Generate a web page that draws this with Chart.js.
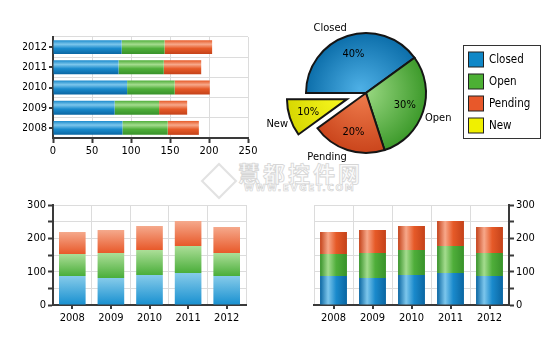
<!DOCTYPE html>
<html><head><meta charset="utf-8">
<script src="https://cdn.jsdelivr.net/npm/chart.js@4.4.1/dist/chart.umd.min.js"></script>
<style>
html,body{margin:0;padding:0;background:#fff;width:560px;height:355px;overflow:hidden;}
.box{position:absolute;}
.wm{position:absolute;color:#fbfbfb;-webkit-text-stroke:0.8px #d6d6d6;white-space:nowrap;}
</style></head><body>
<div class="wm" style="left:238px;top:156px;font:bold 22px 'Noto Sans CJK SC';letter-spacing:3px;">慧都控件网</div>
<div class="wm" style="left:244px;top:183px;font:bold 9px 'DejaVu Sans';letter-spacing:1.6px;-webkit-text-stroke:0.6px #d0d0d0;">WWW.EVGET.COM</div>
<div style="position:absolute;left:206px;top:168px;width:22px;height:22px;border:2px solid #e2e2e2;transform:rotate(45deg);"></div>
<div class="box" style="left:0;top:0;"><canvas id="c1" width="260" height="160"></canvas></div>
<div class="box" style="left:262px;top:0;"><canvas id="c2" width="298" height="185"></canvas></div>
<div class="box" style="left:0;top:190px;"><canvas id="c3" width="260" height="165"></canvas></div>
<div class="box" style="left:290px;top:190px;"><canvas id="c4" width="270" height="165"></canvas></div>
<script>
// ---------- data ----------
const years = ['2008', '2009', '2010', '2011', '2012'];
// top-left horizontal stacked bars
const hClosed  = [89, 79, 95, 84, 88];
const hOpen    = [58, 57, 61, 58, 55];
const hPending = [40, 36, 45, 48, 61];
const hTicks   = [0, 50, 100, 150, 200, 250];
// bottom vertical stacked bars (both charts)
const vClosed  = [87, 81, 90, 96, 87];
const vOpen    = [66, 75, 75, 81, 69];
const vPending = [66, 69, 72, 75, 78];
const vTicks   = [0, 50, 100, 150, 200, 250, 300];
const vLabeled = [0, 100, 200, 300];
// pie
const pieNames  = ['Closed', 'Open', 'Pending', 'New'];
const pieValues = [40, 30, 20, 10];

// ---------- styles ----------
Chart.defaults.animation = false;
Chart.defaults.responsive = false;
Chart.defaults.events = [];
Chart.defaults.font.family = "'DejaVu Sans Condensed','DejaVu Sans',sans-serif";
Chart.defaults.font.size = 11;
Chart.defaults.color = '#000';
Chart.defaults.plugins.legend.display = false;
Chart.defaults.plugins.tooltip.enabled = false;

const AXIS = '#3a3a3a', GRID = '#dcdcdc';
const BAR_PCT = 0.69;
const COL = {
  blue:  {dark: '#0a66a2', mid: '#1a8acc', light: '#7cc6ec', top: '#86cbea', bottom: '#1890d0', flat: '#0f88c8'},
  green: {dark: '#38922a', mid: '#4fae3a', light: '#a4dc8e', top: '#acde98', bottom: '#4aae3a', flat: '#4cb034'},
  red:   {dark: '#c4421a', mid: '#e65a28', light: '#f7a88a', top: '#f5a98c', bottom: '#e8592a', flat: '#e8582a'},
  yellow:{flat: '#f0f000'}
};

function cylinder(col, horizontal) {
  return (c) => {
    const ch = c.chart;
    if (c.type !== 'data' || !ch.chartArea) return col.mid;
    const cat = horizontal ? ch.scales.y : ch.scales.x;
    const center = cat.getPixelForValue(c.dataIndex);
    const half = Math.abs(cat.getPixelForValue(1) - cat.getPixelForValue(0)) * BAR_PCT / 2;
    const g = horizontal
      ? ch.ctx.createLinearGradient(0, center - half, 0, center + half)
      : ch.ctx.createLinearGradient(center - half, 0, center + half, 0);
    g.addColorStop(0, horizontal ? col.mid : col.dark);
    g.addColorStop(0.3, col.light);
    g.addColorStop(0.6, col.mid);
    g.addColorStop(1, col.dark);
    return g;
  };
}
function segment(col) {
  return (c) => {
    const ch = c.chart;
    if (c.type !== 'data' || !ch.chartArea) return col.mid;
    const i = c.dataIndex;
    let base = 0;
    for (let d = 0; d < c.datasetIndex; d++) base += ch.data.datasets[d].data[i];
    const v = ch.data.datasets[c.datasetIndex].data[i];
    const y = ch.scales.y;
    const g = ch.ctx.createLinearGradient(0, y.getPixelForValue(base + v), 0, y.getPixelForValue(base));
    g.addColorStop(0, col.top);
    g.addColorStop(1, col.bottom);
    return g;
  };
}

const catTicks = {
  id: 'catTicks',
  afterDraw(chart, args, o) {
    if (!o || !o.axis) return;
    const s = chart.scales[o.axis], ctx = chart.ctx, a = chart.chartArea;
    ctx.save(); ctx.strokeStyle = AXIS; ctx.lineWidth = 2; ctx.beginPath();
    s.ticks.forEach((t, i) => {
      const p = Math.round(s.getPixelForTick(i));
      if (s.isHorizontal()) { ctx.moveTo(p, a.bottom); ctx.lineTo(p, a.bottom + o.len); }
      else { ctx.moveTo(a.left, p); ctx.lineTo(a.left - o.len, p); }
    });
    ctx.stroke(); ctx.restore();
  }
};

function valueAxis(ticksArr, labeled, extra) {
  return Object.assign({
    min: ticksArr[0], max: ticksArr[ticksArr.length - 1],
    border: {display: true, color: AXIS, width: 2},
    grid: {color: GRID, tickColor: AXIS, tickLength: 5, tickWidth: 2},
    ticks: {stepSize: ticksArr[1] - ticksArr[0], padding: 2,
      callback: (v) => (labeled.includes(v) ? String(v) : '')}
  }, extra || {});
}
function catAxis(extra) {
  return Object.assign({
    border: {display: true, color: AXIS, width: 2},
    grid: {color: GRID, drawTicks: false, offset: true},
  }, extra || {});
}

// ---------- chart 1: horizontal stacked ----------
new Chart(document.getElementById('c1'), {
  type: 'bar',
  plugins: [catTicks],
  data: {
    labels: years,
    datasets: [
      {label: 'Closed', data: hClosed, backgroundColor: cylinder(COL.blue, true)},
      {label: 'Open', data: hOpen, backgroundColor: cylinder(COL.green, true)},
      {label: 'Pending', data: hPending, backgroundColor: cylinder(COL.red, true)}
    ]
  },
  options: {
    indexAxis: 'y',
    datasets: {bar: {barPercentage: BAR_PCT, categoryPercentage: 1}},
    layout: {padding: {left: 23, right: 12, top: 37, bottom: 2}},
    plugins: {catTicks: {axis: 'y', len: 4}},
    scales: {
      x: valueAxis(hTicks, hTicks, {stacked: true, afterFit: (s) => { s.height = 20; }}),
      y: catAxis({stacked: true, reverse: true, ticks: {padding: 6}, afterFit: (s) => { s.width = 30; }})
    }
  }
});

// ---------- chart 2: pie ----------
const pieExplode = {
  id: 'pieExplode',
  beforeDatasetsDraw(chart, args, o) {
    chart.getDatasetMeta(0).data.forEach((el, i) => {
      const d = (o.offsets || [])[i] || 0;
      if (!d || el._wrapped) return;
      const orig = el.draw.bind(el);
      el.draw = function (ctx) {
        const m = (this.startAngle + this.endAngle) / 2;
        ctx.save(); ctx.translate(Math.cos(m) * d, Math.sin(m) * d); orig(ctx); ctx.restore();
      };
      el._wrapped = true;
    });
  },
  afterDatasetsDraw(chart, args, o) {
    const meta = chart.getDatasetMeta(0), ctx = chart.ctx;
    const vals = chart.data.datasets[0].data;
    const total = vals.reduce((a, b) => a + b, 0);
    ctx.save(); ctx.fillStyle = '#000';
    ctx.font = "11px 'DejaVu Sans Condensed','DejaVu Sans',sans-serif";
    meta.data.forEach((el, i) => {
      const m = (el.startAngle + el.endAngle) / 2;
      const d = (o.offsets || [])[i] || 0;
      const cx = el.x + Math.cos(m) * d, cy = el.y + Math.sin(m) * d, r = el.outerRadius;
      ctx.textAlign = 'center'; ctx.textBaseline = 'middle';
      ctx.fillText(Math.round(vals[i] / total * 100) + '%', cx + Math.cos(m) * r * 0.68, cy + Math.sin(m) * r * 0.68);
      ctx.textAlign = Math.cos(m) < 0 ? 'right' : 'left';
      ctx.textBaseline = Math.sin(m) < 0 ? 'bottom' : 'top';
      ctx.fillText(chart.data.labels[i], cx + Math.cos(m) * (r + 2), cy + Math.sin(m) * (r + 2));
    });
    ctx.restore();
  }
};
const boxLegend = {
  id: 'boxLegend',
  afterDraw(chart, args, o) {
    const ctx = chart.ctx, a = chart.chartArea;
    const x = Math.round(a.right + o.gap) + 0.5;
    const y = Math.round((a.top + a.bottom) / 2 - o.height / 2 + o.dy) + 0.5;
    ctx.save();
    ctx.fillStyle = '#fff'; ctx.fillRect(x, y, o.width, o.height);
    ctx.strokeStyle = '#333'; ctx.lineWidth = 1; ctx.strokeRect(x, y, o.width, o.height);
    ctx.font = "11.5px 'DejaVu Sans Condensed','DejaVu Sans',sans-serif";
    ctx.textBaseline = 'middle'; ctx.textAlign = 'left';
    chart.data.labels.forEach((lab, i) => {
      const sy = Math.round(y + o.first + i * o.row);
      ctx.fillStyle = o.colors[i];
      ctx.fillRect(x + 5, sy, o.swatch, o.swatch);
      ctx.strokeStyle = '#222'; ctx.strokeRect(x + 5, sy + 0.0, o.swatch, o.swatch);
      ctx.fillStyle = '#000';
      ctx.fillText(lab, x + 25.5, sy + o.swatch / 2 + 0.5);
    });
    ctx.restore();
  }
};
const pieGrad = {
  Closed: ['#4eb0e6', '#0a6ca8'],
  Open: ['#a2de8a', '#3a9828'],
  Pending: ['#f28050', '#c9431a'],
  New: ['#f8f820', '#d6d600']
};
function radial(name) {
  return (c) => {
    const ch = c.chart, a = ch.chartArea;
    if (!a) return pieGrad[name][1];
    const cx = (a.left + a.right) / 2, cy = (a.top + a.bottom) / 2;
    const g = ch.ctx.createRadialGradient(cx - 6, cy - 4, 0, cx, cy, 62);
    g.addColorStop(0, pieGrad[name][0]);
    g.addColorStop(1, pieGrad[name][1]);
    return g;
  };
}
new Chart(document.getElementById('c2'), {
  type: 'pie',
  plugins: [pieExplode, boxLegend],
  data: {
    labels: pieNames,
    datasets: [{
      data: pieValues,
      backgroundColor: (c) => radial(pieNames[c.dataIndex] || 'Closed')(c),
      borderColor: '#151515', borderWidth: 2, hoverBorderWidth: 2,
      borderJoinStyle: 'miter', offset: 0, hoverOffset: 0
    }]
  },
  options: {
    rotation: -90,
    radius: 60,
    layout: {padding: {left: 33, right: 123, top: 22, bottom: 21}},
    plugins: {
      pieExplode: {offsets: [0, 0, 0, 20]},
      boxLegend: {gap: 26, width: 77, height: 93, dy: -1.5, first: 6.5, row: 21.9, swatch: 15,
        colors: [COL.blue.flat, COL.green.flat, COL.red.flat, COL.yellow.flat]}
    }
  }
});

// ---------- chart 3: bottom-left ----------
new Chart(document.getElementById('c3'), {
  type: 'bar',
  plugins: [catTicks],
  data: {
    labels: years,
    datasets: [
      {label: 'Closed', data: vClosed, backgroundColor: segment(COL.blue)},
      {label: 'Open', data: vOpen, backgroundColor: segment(COL.green)},
      {label: 'Pending', data: vPending, backgroundColor: segment(COL.red)}
    ]
  },
  options: {
    datasets: {bar: {barPercentage: BAR_PCT, categoryPercentage: 1}},
    layout: {padding: {left: 23, right: 14, top: 15, bottom: 30}},
    plugins: {catTicks: {axis: 'x', len: 4}},
    scales: {
      x: catAxis({stacked: true, ticks: {padding: 7}, afterFit: (s) => { s.height = 20; }}),
      y: valueAxis(vTicks, vLabeled, {stacked: true, afterFit: (s) => { s.width = 30; }})
    }
  }
});

// ---------- chart 4: bottom-right ----------
new Chart(document.getElementById('c4'), {
  type: 'bar',
  plugins: [catTicks],
  data: {
    labels: years,
    datasets: [
      {label: 'Closed', data: vClosed, backgroundColor: cylinder(COL.blue, false)},
      {label: 'Open', data: vOpen, backgroundColor: cylinder(COL.green, false)},
      {label: 'Pending', data: vPending, backgroundColor: cylinder(COL.red, false)}
    ]
  },
  options: {
    datasets: {bar: {barPercentage: BAR_PCT, categoryPercentage: 1}},
    layout: {padding: {left: 24, right: 11, top: 15, bottom: 30}},
    plugins: {catTicks: {axis: 'x', len: 4}},
    scales: {
      x: catAxis({stacked: true, ticks: {padding: 7}, afterFit: (s) => { s.height = 20; }}),
      y: valueAxis(vTicks, vLabeled, {stacked: true, position: 'right', afterFit: (s) => { s.width = 40; }})
    }
  }
});
</script>
</body></html>
